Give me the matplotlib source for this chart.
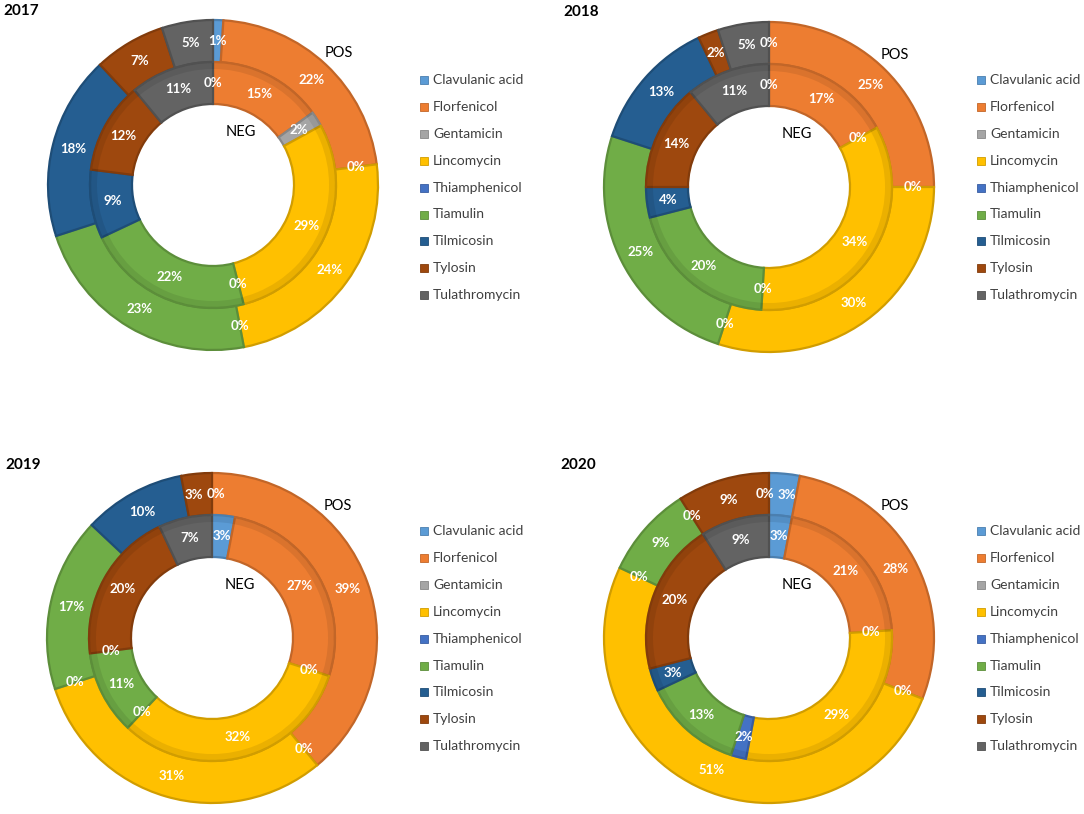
import matplotlib
matplotlib.use("Agg")
import matplotlib.pyplot as plt
import numpy as np
from matplotlib.patches import Wedge, Rectangle
from matplotlib.colors import to_rgb

plt.rcParams['font.family'] = ['Lato', 'DejaVu Sans']

# drug classes and colours (Excel office palette)
drugs = ['Clavulanic acid', 'Florfenicol', 'Gentamicin', 'Lincomycin', 'Thiamphenicol',
         'Tiamulin', 'Tilmicosin', 'Tylosin', 'Tulathromycin']
colors = ['#5B9BD5', '#ED7D31', '#A5A5A5', '#FFC000', '#4472C4',
          '#70AD47', '#255E91', '#9E480E', '#636363']

years = ['2017', '2018', '2019', '2020']
# outer ring = POS, inner ring = NEG (percent)
pos_2017 = [1, 22, 0, 24, 0, 23, 18, 7, 5]
neg_2017 = [0, 15, 2, 29, 0, 22, 9, 12, 11]
pos_2018 = [0, 25, 0, 30, 0, 25, 13, 2, 5]
neg_2018 = [0, 17, 0, 34, 0, 20, 4, 14, 11]
pos_2019 = [0, 39, 0, 31, 0, 17, 10, 3, 0]
neg_2019 = [3, 27, 0, 32, 0, 11, 0, 20, 7]
pos_2020 = [3, 28, 0, 51, 0, 9, 0, 9, 0]
neg_2020 = [3, 21, 0, 29, 2, 13, 3, 20, 9]

pos_all = [pos_2017, pos_2018, pos_2019, pos_2020]
neg_all = [neg_2017, neg_2018, neg_2019, neg_2020]

W, H = 1084, 814
fig = plt.figure(figsize=(W / 100, H / 100), dpi=100)
ax = fig.add_axes([0, 0, 1, 1])

# pixel layout of each panel
centers = [(213, 185), (769, 187), (212, 638), (769, 638)]
year_pos = [(3, 11), (563, 12), (5, 465), (560, 465)]
legend_x = [420, 977, 420, 977]
legend_y0 = [80, 80, 531, 531]
R_out, R_mid, R_hole = 165, 123, 81


def darker(c, f=0.82):
    r, g, b = to_rgb(c)
    return (r * f, g * f, b * f)


def ring(vals, cx, cy, radius, width):
    wedges, _ = ax.pie(vals, radius=radius, center=(cx, cy), startangle=90,
                       counterclock=False, colors=colors,
                       wedgeprops=dict(width=width))
    for w, v, c in zip(wedges, vals, colors):
        w.set_edgecolor(darker(c))
        w.set_linewidth(1.6 if v > 0 else 0)
    # data labels at middle of the band
    rm = radius - width / 2
    cum = 0
    pts = []
    for v in vals:
        ang = np.deg2rad(90 - 3.6 * (cum + v / 2))
        p = [cx + rm * np.cos(ang), cy + rm * np.sin(ang), v]
        cum += v
        # two zero labels on the same spot show as one
        if any(abs(q[0] - p[0]) < 0.5 and abs(q[1] - p[1]) < 0.5 for q in pts):
            continue
        pts.append(p)
    # push apart labels that collide (like Excel does)
    for a in range(len(pts)):
        for b in range(a + 1, len(pts)):
            dx = pts[b][0] - pts[a][0]
            if abs(dx) < 22 and abs(pts[b][1] - pts[a][1]) < 12:
                s = 1 if dx >= 0 else -1
                push = (22 - abs(dx)) / 2
                pts[a][0] -= s * push
                pts[b][0] += s * push
    for x, y, v in pts:
        ax.text(x, y, f'{v}%', ha='center', va='center', color='white',
                fontsize=9.5, fontweight='bold')


for i, yr in enumerate(years):
    cx, cy = centers[i][0], H - centers[i][1]
    ring(pos_all[i], cx, cy, R_out, R_out - R_mid)
    ring(neg_all[i], cx, cy, R_mid, R_mid - R_hole)
    # soft shadow on the inner ring edge
    ax.add_patch(Wedge((cx, cy), R_mid - 1, 0, 360, width=6,
                       facecolor='black', alpha=0.08, edgecolor='none'))
    ax.text(cx + 126, cy + 132, 'POS', ha='center', va='center', fontsize=10.5)
    ax.text(cx + 28, cy + 53, 'NEG', ha='center', va='center', fontsize=10.5)
    ax.text(year_pos[i][0], H - year_pos[i][1], yr, ha='left', va='center',
            fontsize=11, fontweight='bold')
    # legend
    for j, (d, c) in enumerate(zip(drugs, colors)):
        ly = H - (legend_y0[i] + 26.9 * j)
        ax.add_patch(Rectangle((legend_x[i], ly - 4), 8, 8, facecolor=c,
                               edgecolor=darker(c), linewidth=0.6))
        ax.text(legend_x[i] + 13, ly, d, ha='left', va='center',
                fontsize=10, color='#404040')

ax.set_xlim(0, W)
ax.set_ylim(0, H)
ax.set_aspect('equal')
ax.axis('off')

fig.savefig('out.png', dpi=100, facecolor='white')
